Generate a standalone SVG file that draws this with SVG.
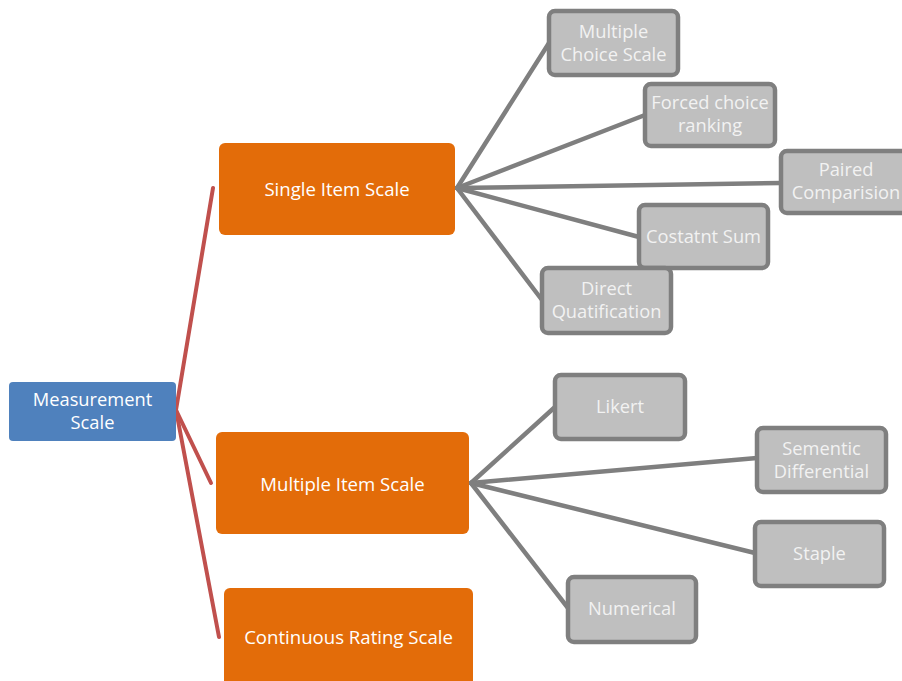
<svg xmlns="http://www.w3.org/2000/svg" width="902" height="681" viewBox="0 0 902 681">
  <style>
    .root rect { fill: #4f81bd; }
    .branch rect { fill: #e36c09; }
    .leaf rect { fill: #bfbfbf; stroke: #7f7f7f; stroke-width: 4.5; }
    text { font-family: "Open Sans", "Liberation Sans", sans-serif; text-anchor: middle; }
    .root text { fill: #ffffff; font-size: 18.3px; }
    .branch text { fill: #ffffff; font-size: 18.6px; }
    .leaf text { fill: #f2f2f2; font-size: 18.3px; }
    .trunk line { stroke: #c0504d; stroke-width: 4; stroke-linecap: round; }
    .twig line { stroke: #7f7f7f; stroke-width: 4.5; stroke-linecap: round; }
  </style>

  <!-- connectors -->
  <g id="connectors">
    <g class="trunk">
      <line x1="176" y1="410" x2="213" y2="188"/>
      <line x1="176" y1="410" x2="211" y2="483"/>
      <line x1="176" y1="410" x2="219" y2="637"/>
    </g>
    <g class="twig">
      <line x1="457" y1="188" x2="549" y2="43"/>
      <line x1="457" y1="188" x2="645" y2="115"/>
      <line x1="457" y1="188" x2="781" y2="183"/>
      <line x1="457" y1="188" x2="639" y2="237"/>
      <line x1="457" y1="188" x2="542" y2="300"/>
      <line x1="471" y1="483" x2="555" y2="407"/>
      <line x1="471" y1="483" x2="757" y2="458"/>
      <line x1="471" y1="483" x2="755" y2="553"/>
      <line x1="471" y1="483" x2="568" y2="608"/>
    </g>
  </g>

  <!-- root -->
  <g id="measurement-scale" class="root">
    <rect x="9" y="382" width="167" height="59" rx="4"/>
    <text x="92.5" y="406">Measurement</text>
    <text x="92.5" y="429">Scale</text>
  </g>

  <!-- second level -->
  <g id="single-item-scale" class="branch">
    <rect x="219" y="143" width="236" height="92" rx="6"/>
    <text x="337" y="196">Single Item Scale</text>
  </g>
  <g id="multiple-item-scale" class="branch">
    <rect x="216" y="432" width="253" height="102" rx="6"/>
    <text x="342.5" y="490.5">Multiple Item Scale</text>
  </g>
  <g id="continuous-rating-scale" class="branch">
    <rect x="224" y="588" width="249" height="110" rx="6"/>
    <text x="348.5" y="643.5">Continuous Rating Scale</text>
  </g>

  <!-- single item scale types -->
  <g id="multiple-choice-scale" class="leaf">
    <rect x="549" y="11" width="129" height="64" rx="6"/>
    <text x="613.5" y="38">Multiple</text>
    <text x="613.5" y="61">Choice Scale</text>
  </g>
  <g id="forced-choice-ranking" class="leaf">
    <rect x="645" y="84" width="130" height="62" rx="6"/>
    <text x="710" y="109">Forced choice</text>
    <text x="710" y="132">ranking</text>
  </g>
  <g id="paired-comparision" class="leaf">
    <rect x="781" y="151" width="131" height="62" rx="6"/>
    <text x="846" y="176">Paired</text>
    <text x="846" y="199">Comparision</text>
  </g>
  <g id="costatnt-sum" class="leaf">
    <rect x="639" y="205" width="129" height="63" rx="6"/>
    <text x="703.5" y="243">Costatnt Sum</text>
  </g>
  <g id="direct-quatification" class="leaf">
    <rect x="542" y="268" width="129" height="65" rx="6"/>
    <text x="606.5" y="295">Direct</text>
    <text x="606.5" y="318">Quatification</text>
  </g>

  <!-- multiple item scale types -->
  <g id="likert" class="leaf">
    <rect x="555" y="375" width="130" height="64" rx="6"/>
    <text x="620" y="413">Likert</text>
  </g>
  <g id="sementic-differential" class="leaf">
    <rect x="757" y="428" width="129" height="64" rx="6"/>
    <text x="821.5" y="455">Sementic</text>
    <text x="821.5" y="478">Differential</text>
  </g>
  <g id="staple" class="leaf">
    <rect x="755" y="522" width="129" height="64" rx="6"/>
    <text x="819.5" y="560">Staple</text>
  </g>
  <g id="numerical" class="leaf">
    <rect x="568" y="577" width="128" height="65" rx="6"/>
    <text x="632" y="615">Numerical</text>
  </g>
</svg>
